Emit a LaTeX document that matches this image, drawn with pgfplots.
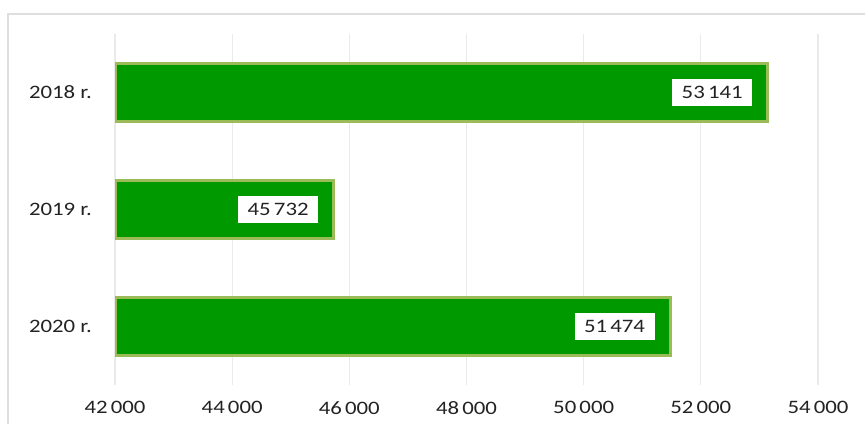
\documentclass[border=0pt]{standalone}
\usepackage{pgfplots}
\usepackage{pgfplotstable}
\pgfplotsset{compat=1.18}
\usepackage{fontspec}
\setmainfont[FakeStretch=1.2]{Carlito}
\definecolor{barfill}{RGB}{0,153,0}
\definecolor{barline}{RGB}{155,187,89}
\definecolor{framec}{RGB}{222,222,222}
\definecolor{gridc}{RGB}{234,234,234}
\definecolor{txt}{RGB}{35,35,35}

\pgfplotstableread{
k v
0 53141
1 45732
2 51474
}\datatable

\begin{document}
\begin{tikzpicture}
\useasboundingbox (0,0) rectangle (865pt,-424pt);
\fill[white] (0,0) rectangle (865pt,-424pt);
% outer frame (left and top only)
\draw[framec, line width=2pt] (8pt,-424pt) -- (8pt,-14pt) -- (865pt,-14pt);
\begin{axis}[
  at={(115pt,-385pt)}, anchor=south west,
  scale only axis, width=703pt, height=351pt,
  xbar, bar width=0.5,
  % bars start at 42 000: axis runs in offsets from that base
  xmin=0, xmax=12000,
  ymin=-0.5, ymax=2.5, y dir=reverse,
  ytick={0,1,2}, yticklabels={2018 r., 2019 r., 2020 r.},
  xtick={0,2000,4000,6000,8000,10000,12000},
  xticklabels={42\,000,44\,000,46\,000,48\,000,50\,000,52\,000,54\,000},
  axis line style={draw=none}, major tick length=0pt,
  xmajorgrids, grid style={gridc, line width=1.2pt},
  tick label style={font=\fontsize{19}{22}\selectfont, text=txt, inner sep=0pt},
  yticklabel style={anchor=east, xshift=-23pt},
  xticklabel style={anchor=north, yshift=-16pt},
  point meta=explicit,
  nodes near coords={\pgfmathprintnumber[1000 sep={\,}, assume math mode=true]{\pgfplotspointmeta}},
  nodes near coords style={anchor=east, xshift=-14pt, fill=white, text=txt,
    inner xsep=9.5pt, inner ysep=7pt, font=\fontsize{19}{22}\selectfont},
]
\addplot[fill=barfill, draw=barline, line width=3pt]
  table[x expr=\thisrow{v}-42000, y=k, meta=v] {\datatable};
\end{axis}
\end{tikzpicture}
\end{document}
